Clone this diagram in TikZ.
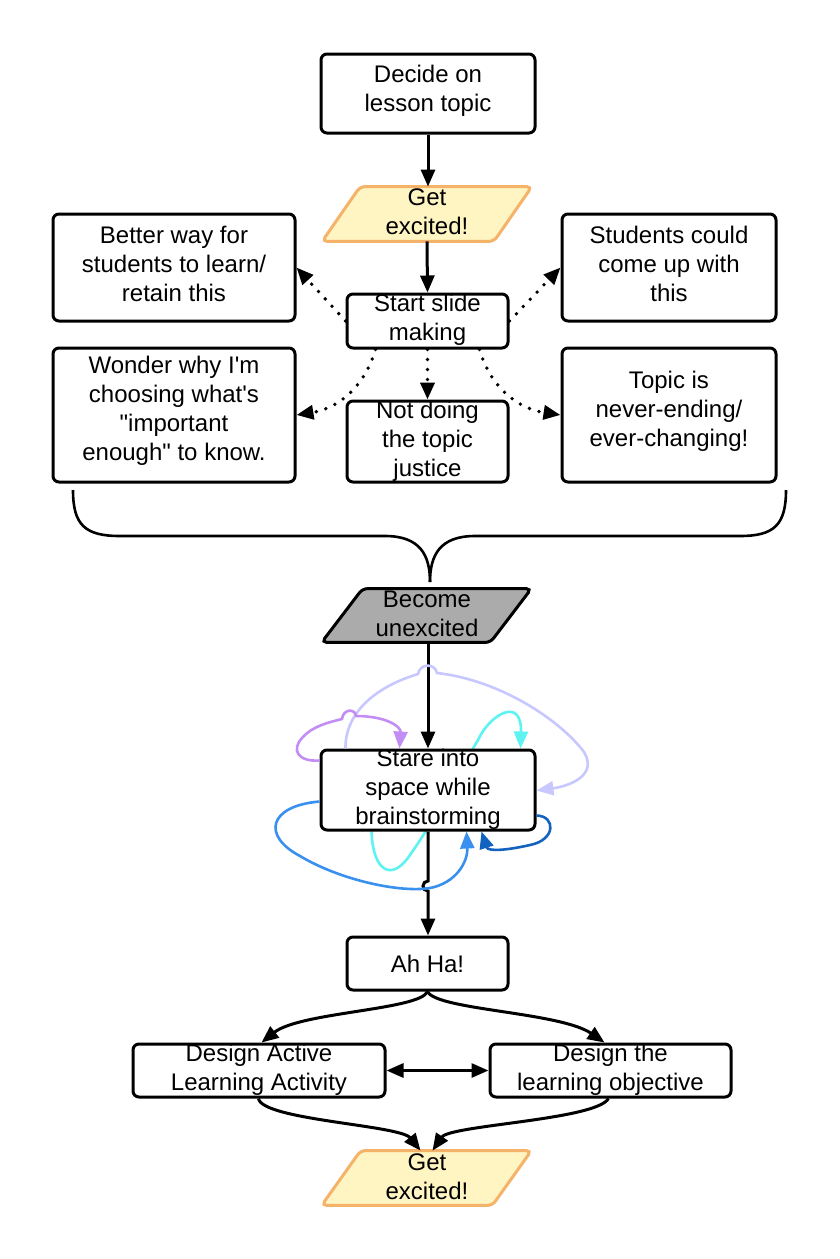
\documentclass[tikz,border=0pt]{standalone}
\usepackage{fontspec}
\setmainfont{Liberation Sans}[Ligatures=TeXOff]
\usetikzlibrary{arrows.meta,calc}
\pgfdeclarelayer{bg}
\pgfdeclarelayer{behind}
\pgfsetlayers{bg,behind,main}
\definecolor{exfill}{HTML}{FFF5C2}
\definecolor{exdraw}{HTML}{F5B36A}
\definecolor{unfill}{HTML}{ABABAB}
\definecolor{lpurple}{HTML}{C28EF5}
\definecolor{lavender}{HTML}{C8C8FF}
\definecolor{lcyan}{HTML}{5EF3F3}
\definecolor{mblue}{HTML}{3A90EF}
\definecolor{dblue}{HTML}{1462C0}
\newcommand\paradraw[3]{%
  \draw[#3] ($(#1.north west)+(#2,0)$) -- ($(#1.north east)+(#2,0)$)
     -- ($(#1.south east)+(-#2,0)$) -- ($(#1.south west)+(-#2,0)$) -- cycle;}
\begin{document}
\begin{tikzpicture}[x=0.5pt,y=-0.5pt,
  >={Triangle[length=8.5pt,width=7pt]},
  box/.style={draw=black, line width=1.5pt, rounded corners=3pt, fill=white, inner sep=0pt},
  anchorbox/.style={inner sep=0pt},
  txt/.style={align=center, font=\fontsize{12}{14.5}\selectfont, text=black, inner sep=0pt},
  conn/.style={line width=1.5pt, ->},
  dotc/.style={line width=1.9pt, dash pattern=on 0pt off 5pt, line cap=round, ->},
  loop/.style={line width=1.3pt, ->},
  excited/.style={fill=exfill, draw=exdraw, line width=1.5pt, rounded corners=2.5pt},
  unexcited/.style={fill=unfill, draw=black, line width=1.5pt, rounded corners=2.5pt},
  brace/.style={line width=1.3pt}
]
\begin{pgfonlayer}{bg}
\fill[white] (0,0) rectangle (840,1259);
\end{pgfonlayer}
\useasboundingbox (0,0) rectangle (840,1259);

% boxes
\node[box, minimum width=107pt, minimum height=39.5pt] (decide) at (428,93.5) {};
\node[txt] at (428,91) {Decide on\\lesson topic};

\node[anchorbox, minimum width=85.5pt, minimum height=27pt] (get1) at (427,214) {};
\paradraw{get1}{19}{excited}
\node[txt] at (427,212) {Get\\excited!};

\node[box, minimum width=80.5pt, minimum height=27pt] (start) at (427.5,321) {};
\node[txt] at (427.5,320) {Start slide\\making};

\node[box, minimum width=121pt, minimum height=53.5pt] (better) at (174,267.5) {};
\node[txt] at (174,264) {Better way for\\students to learn/\\retain this};

\node[box, minimum width=107pt, minimum height=53.5pt] (students) at (669,267.5) {};
\node[txt] at (669,264) {Students could\\come up with\\this};

\node[box, minimum width=121pt, minimum height=67pt] (wonder) at (174,415) {};
\node[txt] at (174,411) {Wonder why I'm\\choosing what's\\"important\\enough" to know.};

\node[box, minimum width=80.5pt, minimum height=40.5pt] (notdoing) at (427.5,441.5) {};
\node[txt] at (427.5,441.5) {Not doing\\the topic\\justice};

\node[box, minimum width=107pt, minimum height=67pt] (topic) at (669,415) {};
\node[txt] at (669,411) {Topic is\\never-ending/\\ever-changing!};

% brace
\coordinate (cusp) at (430,582);
\draw[brace] (73,490) .. controls (73,525) and (85,536) .. (120,536) -- (385,536)
   .. controls (420,536) and (430,555) .. (cusp);
\draw[brace] (786,490) .. controls (786,525) and (774,536) .. (740,536) -- (475,536)
   .. controls (440,536) and (430,555) .. (cusp);

\node[anchorbox, minimum width=84pt, minimum height=26.5pt] (become) at (426.5,615.5) {};
\paradraw{become}{20.5}{unexcited}
\node[txt] at (427,614) {Become\\unexcited};

\node[box, minimum width=107pt, minimum height=40pt] (stare) at (428,790) {};
\node[txt] at (428,789) {Stare into\\space while\\brainstorming};

\node[box, minimum width=80.5pt, minimum height=26.5pt] (ahha) at (427.5,963.5) {};
\node[txt] at (ahha) {Ah Ha!};

\node[box, minimum width=126pt, minimum height=26.5pt] (active) at (259,1070.5) {};
\node[txt] at (259,1070) {Design Active\\Learning Activity};

\node[box, minimum width=120.5pt, minimum height=26.5pt] (objective) at (610.5,1070.5) {};
\node[txt] at (610.5,1070) {Design the\\learning objective};

\node[anchorbox, minimum width=85pt, minimum height=27pt] (get2) at (426.5,1178) {};
\paradraw{get2}{19.5}{excited}
\node[txt] at (427,1177) {Get\\excited!};

% main connectors
\draw[conn] (decide.south) -- (decide.south |- get1.north);
\draw[conn] (get1.south) -- (start.north);
\draw[dotc] (start.west) -- (better.east);
\draw[dotc] (start.east) -- (students.west);
\draw[dotc] ($(start.south)+(-52,0)$) .. controls (365,385) and (340,408) .. (wonder.east);
\draw[dotc] (start.south) -- (notdoing.north);
\draw[dotc] ($(start.south)+(52,0)$) .. controls (490,385) and (515,408) .. (topic.west);

\draw[conn] (become.south -| stare.north) -- (stare.north);
\draw[conn] (stare.south) -- (428,881) arc[start angle=90,end angle=270,radius=2.5pt] -- (ahha.north -| stare.south);

% loops around stare
\begin{pgfonlayer}{behind}
\draw[loop, lcyan] ($(stare.south west)+(52,0)$) .. controls (373,872) and (392,882) .. (410,855)
   .. controls (440,812) and (460,770) .. (478,740)
   .. controls (490,714) and (522,696) .. ($(stare.north west)+(201,0)$);
\end{pgfonlayer}
\draw[loop, lavender] ($(stare.north west)+(26,0)$) .. controls (345,715) and (372,688) .. (418,674)
   .. controls (420,663) and (435,663) .. (437,673)
   .. controls (500,680) and (560,720) .. (584,752)
   .. controls (598,775) and (570,786) .. ($(stare.north east)+(0,42)$);
\draw[loop, lpurple] ($(stare.north west)+(0,12)$) .. controls (298,762) and (291,750) .. (302,738)
   .. controls (312,726) and (330,722) .. (342,719)
   .. controls (343,709) and (355,708) .. (356,716)
   .. controls (385,716) and (401,726) .. ($(stare.north west)+(80,0)$);
\draw[loop, mblue] ($(stare.north west)+(0,53)$) .. controls (268,806) and (262,836) .. (300,856)
   .. controls (340,880) and (400,893) .. (430,888)
   .. controls (456,883) and (468,862) .. ($(stare.south west)+(147,0)$);
\draw[loop, dblue] ($(stare.north east)+(0,67)$) .. controls (556,816) and (556,840) .. (530,845)
   .. controls (508,850) and (488,852) .. ($(stare.south west)+(162,0)$);

% bottom connectors
\draw[conn] (ahha.south) .. controls (420,1010) and (300,1012) .. ($(active.north west)+(130,0)$);
\draw[conn] (ahha.south) .. controls (436,1010) and (560,1012) .. ($(objective.north west)+(116,0)$);
\draw[conn, <->] (active.east) -- (objective.west);
\draw[conn] ($(active.south west)+(127,0)$) .. controls (262,1120) and (400,1125) .. ($(get2.north)+(-6,0)$);
\draw[conn] ($(objective.south west)+(120,0)$) .. controls (596,1120) and (450,1125) .. ($(get2.north)+(6,0)$);
\end{tikzpicture}
\end{document}
